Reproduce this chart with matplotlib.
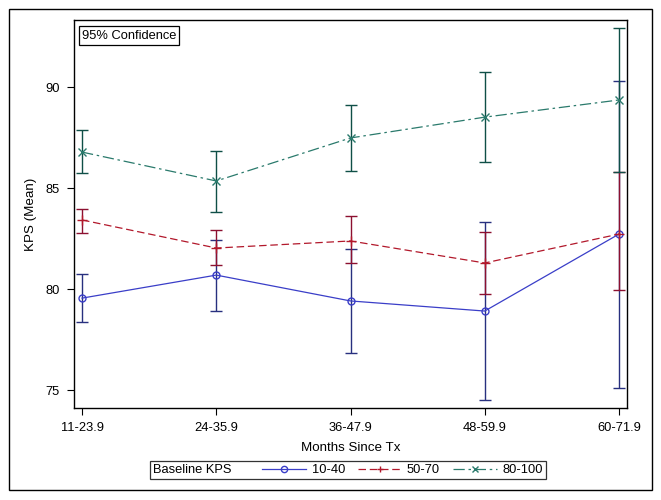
import matplotlib
matplotlib.use("Agg")
import matplotlib.pyplot as plt
from matplotlib.lines import Line2D
from matplotlib.offsetbox import HPacker

plt.rcParams['font.family'] = ['Liberation Sans', 'DejaVu Sans']

# --- data ---
months = ['11-23.9', '24-35.9', '36-47.9', '48-59.9', '60-71.9']

kps_10_40 = [79.55, 80.69, 79.41, 78.91, 82.72]
kps_10_40_lo = [78.37, 78.91, 76.83, 74.50, 75.10]
kps_10_40_hi = [80.74, 82.43, 81.98, 83.32, 90.30]

kps_50_70 = [83.42, 82.03, 82.38, 81.29, 82.72]
kps_50_70_lo = [82.77, 81.19, 81.29, 79.75, 79.95]
kps_50_70_hi = [83.96, 82.92, 83.61, 82.82, 85.79]

kps_80_100 = [86.78, 85.35, 87.48, 88.51, 89.36]
kps_80_100_lo = [85.74, 83.81, 85.84, 86.29, 85.79]
kps_80_100_hi = [87.87, 86.83, 89.11, 90.74, 92.92]

series = [
    ('10-40', kps_10_40, kps_10_40_lo, kps_10_40_hi, '#3a3ec8', '#28307f', 'o', '-', 5),
    ('50-70', kps_50_70, kps_50_70_lo, kps_50_70_hi, '#b2182b', '#8c1030', '+', (0, (6, 3)), 7),
    ('80-100', kps_80_100, kps_80_100_lo, kps_80_100_hi, '#2a7a6c', '#0f4f47', 'x', (0, (9, 3, 2, 3)), 5.5),
]

FS = 9.3

fig = plt.figure(figsize=(6.61, 5.00), dpi=100)
ax = fig.add_axes([74 / 661, 1 - 408 / 500, 553 / 661, 388 / 500])

x = list(range(len(months)))
handles = []
for label, mean, lo, hi, lc, ec, mk, ls, ms in series:
    yerr = [[m - l for m, l in zip(mean, lo)], [h - m for m, h in zip(mean, hi)]]
    ax.errorbar(x, mean, yerr=yerr, fmt='none', ecolor=ec, elinewidth=1.0,
                capsize=4.5, capthick=1.0, zorder=2)
    ax.plot(x, mean, color=lc, linestyle=ls, linewidth=0.9, zorder=3)
    ax.plot(x, mean, linestyle='none', marker=mk, markersize=ms,
            markerfacecolor='none', markeredgecolor=lc, markeredgewidth=1.0, zorder=4)
    handles.append(Line2D([], [], color=lc, linestyle=ls, linewidth=0.9, marker=mk,
                          markersize=4.5, markerfacecolor='none', markeredgecolor=lc,
                          label=label))

ax.set_xlim(-0.06, 4.06)
ax.set_ylim(74.11, 93.32)
ax.set_xticks(x)
ax.set_xticklabels(months)
ax.set_yticks([75, 80, 85, 90])
ax.tick_params(labelsize=FS, length=5, width=0.8, pad=5)
for s in ax.spines.values():
    s.set_linewidth(1.0)
ax.set_xlabel('Months Since Tx', fontsize=FS + 0.3, labelpad=6)
ax.set_ylabel('KPS (Mean)', fontsize=FS + 0.3, labelpad=6)

ax.text(0.014, 0.975, '95% Confidence', transform=ax.transAxes, fontsize=FS,
        va='top', ha='left',
        bbox=dict(boxstyle='square,pad=0.25', fc='white', ec='black', lw=0.9))

# legend with title placed left of the entries
leg = fig.legend(handles=handles, ncol=3, title='Baseline KPS', loc='center',
                 bbox_to_anchor=(348 / 661, 1 - 470 / 500), fontsize=FS,
                 title_fontsize=FS, frameon=True, fancybox=False, edgecolor='black',
                 handlelength=3.4, handletextpad=0.4, columnspacing=1.0,
                 borderpad=0.25)
leg.get_frame().set_linewidth(0.9)
box = HPacker(pad=leg.borderpad * FS, sep=22, align='center',
              children=[leg._legend_title_box, leg._legend_handle_box])
box.set_figure(fig)
box.axes = leg.axes
box.set_offset(leg._findoffset)
leg._legend_box = box

# outer frame
fig.patches.append(plt.Rectangle((9 / 661, 1 - 490 / 500), 643 / 661, 481 / 500,
                                 transform=fig.transFigure, fill=False,
                                 ec='black', lw=1.0))

fig.savefig('out.png', dpi=100)
